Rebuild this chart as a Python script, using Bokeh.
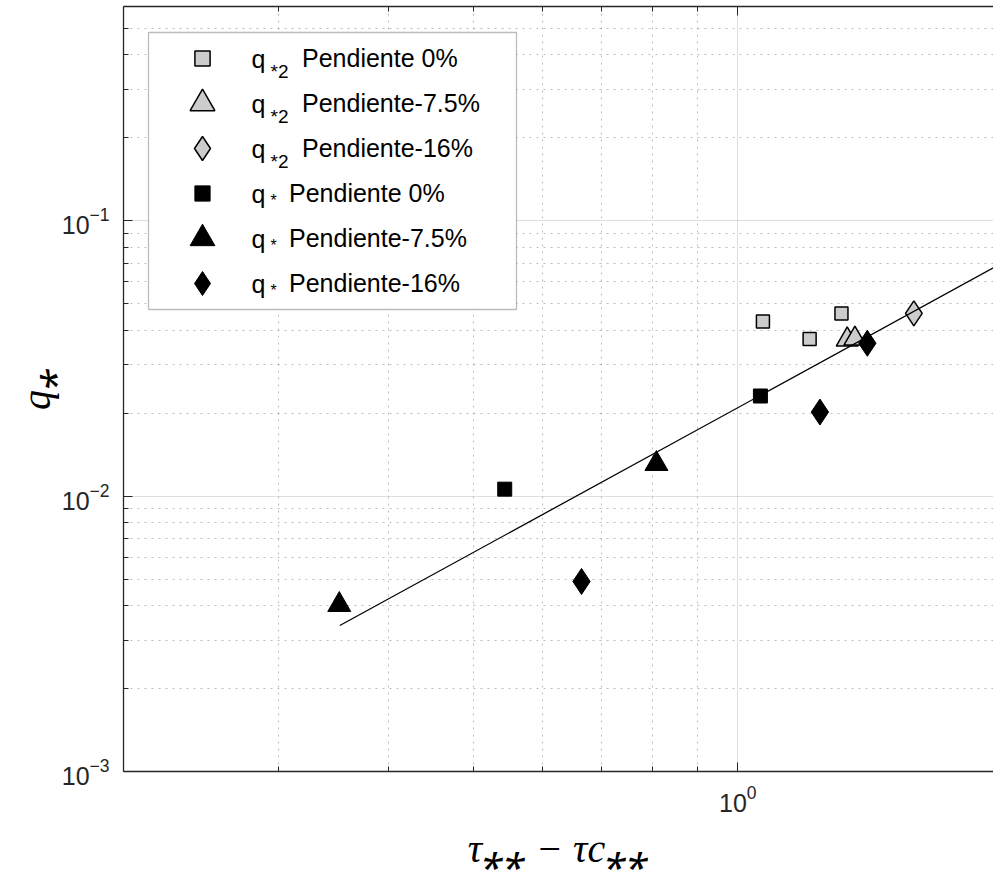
import math
from bokeh.plotting import figure
from bokeh.models import (Range1d, FixedTicker, LogAxis, Legend, LegendItem,
                          Label, BoxAnnotation, CustomJSTickFormatter)
from bokeh.embed import file_html
from bokeh.resources import INLINE

# ---------------- data ----------------
sq2_x = [1.068, 1.207, 1.312]
sq2_y = [0.0431, 0.0372, 0.0461]
tri2_x = [1.332, 1.359]
tri2_y = [0.0370, 0.0373]
dia2_x = [1.586]
dia2_y = [0.0461]

sq_x = [0.543, 1.061]
sq_y = [0.0106, 0.0231]
tri_x = [0.352, 0.808]
tri_y = [0.00403, 0.0131]
dia_x = [0.664, 1.240, 1.404]
dia_y = [0.00490, 0.0202, 0.0359]

fit_x = [0.3525, 1.954]
fit_y = [0.00339, 0.0675]

legend_labels = ["Pendiente 0%", "Pendiente-7.5%", "Pendiente-16%",
                 "Pendiente 0%", "Pendiente-7.5%", "Pendiente-16%"]
x_title = "\u03c4\u204e\u204e \u2212 \u03c4c\u204e\u204e"
y_title = "q\u204e"

x_major_ticks = [1.0]
x_minor_ticks = [0.2, 0.3, 0.4, 0.5, 0.6, 0.7, 0.8, 0.9, 2.0]
y_major_ticks = [0.001, 0.01, 0.1]
y_minor_ticks = [0.002, 0.003, 0.004, 0.005, 0.006, 0.007, 0.008, 0.009,
                 0.02, 0.03, 0.04, 0.05, 0.06, 0.07, 0.08, 0.09,
                 0.2, 0.3, 0.4, 0.5, 0.6]

AX = "#262626"
SANS = "Liberation Sans"
SERIF = "Liberation Serif"

p = figure(width=993, height=873, x_axis_type="log", y_axis_type="log",
           x_range=Range1d(0.2, 1.954), y_range=Range1d(0.001, 0.6),
           output_backend="svg", toolbar_location=None,
           min_border_left=123, min_border_right=0,
           min_border_top=6, min_border_bottom=102)
p.background_fill_color = "white"
p.border_fill_color = "white"
p.outline_line_color = None

bottom_axis = p.below[0]
left_axis = p.left[0]
bottom_axis.ticker = FixedTicker(ticks=x_major_ticks, minor_ticks=x_minor_ticks)
left_axis.ticker = FixedTicker(ticks=y_major_ticks, minor_ticks=y_minor_ticks)

top_axis = LogAxis(ticker=FixedTicker(ticks=x_major_ticks, minor_ticks=x_minor_ticks),
                   formatter=CustomJSTickFormatter(code="return ''"),
                   major_label_standoff=0)
p.add_layout(top_axis, "above")

for ax in [bottom_axis, left_axis, top_axis]:
    ax.axis_line_color = AX
    ax.axis_line_width = 1.3
    ax.major_tick_line_color = AX
    ax.minor_tick_line_color = AX
    ax.major_tick_in = 9
    ax.major_tick_out = 0
    ax.minor_tick_in = 5
    ax.minor_tick_out = 0
    ax.major_label_text_font = SANS
    ax.major_label_text_color = AX

bottom_axis.major_label_text_font_size = "25px"
bottom_axis.major_label_standoff = 13
left_axis.major_label_text_font_size = "25px"
left_axis.major_label_standoff = 14

# axis titles
bottom_axis.axis_label = x_title
bottom_axis.axis_label_text_font = SERIF
bottom_axis.axis_label_text_font_style = "italic"
bottom_axis.axis_label_text_font_size = "40px"
bottom_axis.axis_label_text_color = "black"
bottom_axis.axis_label_standoff = 11

left_axis.axis_label = y_title
left_axis.axis_label_text_font = SERIF
left_axis.axis_label_text_font_style = "italic"
left_axis.axis_label_text_font_size = "40px"
left_axis.axis_label_text_color = "black"
left_axis.axis_label_standoff = 0

for g in [p.xgrid[0], p.ygrid[0]]:
    g.grid_line_color = AX
    g.grid_line_alpha = 0.15
    g.minor_grid_line_color = AX
    g.minor_grid_line_alpha = 0.3
    g.minor_grid_line_dash = "2 5"

# ---------------- glyphs ----------------
gray = "#cccccc"
r_sq2 = p.scatter(sq2_x, sq2_y, marker="square", size=13, fill_color=gray,
                  line_color="black", line_width=1.5)
r_tri2 = p.scatter(tri2_x, tri2_y, marker="triangle", size=22, fill_color=gray,
                   line_color="black", line_width=1.5)
r_dia2 = p.scatter(dia2_x, dia2_y, marker="diamond", size=25, fill_color=gray,
                   line_color="black", line_width=1.5)
r_sq = p.scatter(sq_x, sq_y, marker="square", size=14, fill_color="black",
                 line_color="black")
r_tri = p.scatter(tri_x, tri_y, marker="triangle", size=23, fill_color="black",
                  line_color="black")
r_dia = p.scatter(dia_x, dia_y, marker="diamond", size=26, fill_color="black",
                  line_color="black")
p.line(fit_x, fit_y, line_color="black", line_width=1.3)

# ---------------- legend ----------------
FB = 771   # frame bottom (screen px)
FL = 123   # frame left (screen px)

box = BoxAnnotation(left=25, right=393, top=739, bottom=462,
                    left_units="screen", right_units="screen",
                    top_units="screen", bottom_units="screen",
                    fill_color="white", fill_alpha=1.0,
                    line_color=AX, line_width=1.3, level="annotation")
p.add_layout(box)

row_c = [58, 103, 148, 193, 238, 283]          # row centres (screen)
row_r = [r_sq2, r_tri2, r_dia2, r_sq, r_tri, r_dia]
row_size = [15, 25, 24, 15, 25, 24]             # legend marker sizes
row_text_x = [302, 302, 302, 289, 289, 289]     # start of "Pendiente"
GLYPH_CX = 202

for i in range(6):
    g = int(round(row_size[i] / 0.4))
    c = row_c[i]
    left = GLYPH_CX - g / 2
    leg = Legend(items=[LegendItem(label=legend_labels[i], renderers=[row_r[i]])],
                 location=(left - FL, FB - (c + g / 2)), orientation="vertical",
                 border_line_color=None, background_fill_alpha=0.0,
                 padding=0, margin=0, spacing=0,
                 glyph_width=g, glyph_height=g, label_height=g,
                 label_standoff=int(round(row_text_x[i] - (left + g))),
                 label_text_font=SANS, label_text_font_size="25px",
                 label_text_color="black")
    p.add_layout(leg)

    p.add_layout(Label(x=251 - FL, y=FB - (c + 0), x_units="screen", y_units="screen",
                       text="q", text_font=SANS, text_font_size="25px",
                       text_baseline="alphabetic", text_align="left", text_color="black"))
    if i < 3:
        p.add_layout(Label(x=270 - FL, y=FB - (c + 13), x_units="screen", y_units="screen",
                           text="*2", text_font=SANS, text_font_size="19px",
                           text_baseline="alphabetic", text_align="left", text_color="black"))
    else:
        p.add_layout(Label(x=270 - FL, y=FB - (c + 7), x_units="screen", y_units="screen",
                           text="*", text_font=SANS, text_font_size="16px",
                           text_baseline="alphabetic", text_align="left", text_color="black"))

open("out.html", "w").write(file_html(p, INLINE))
